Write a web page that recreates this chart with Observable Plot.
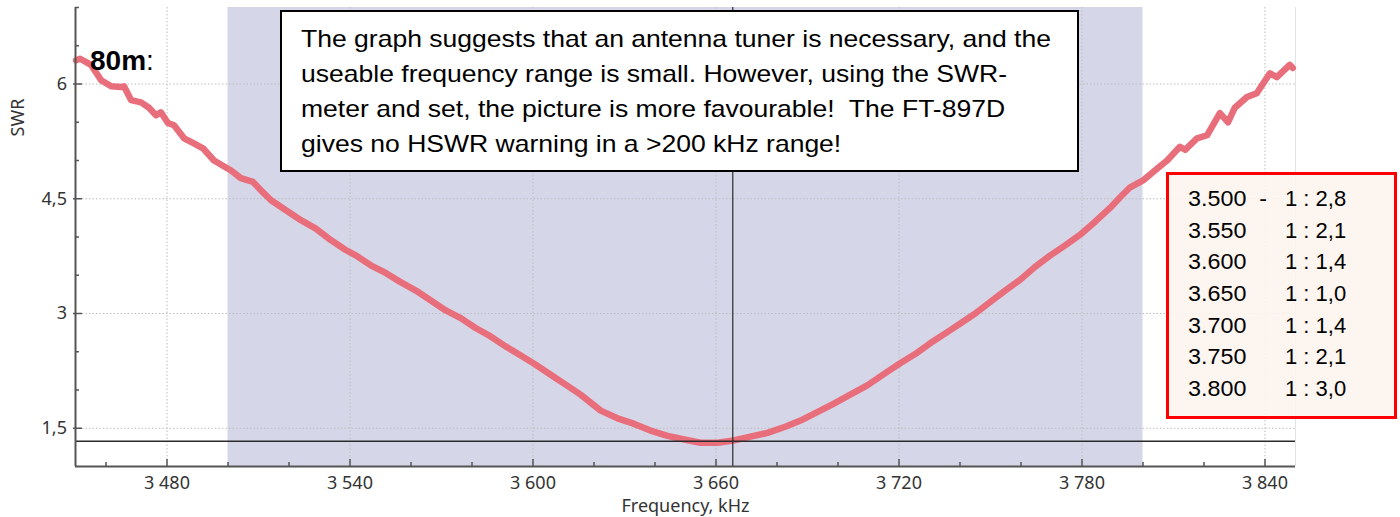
<!DOCTYPE html>
<html>
<head>
<meta charset="utf-8">
<script src="https://cdn.jsdelivr.net/npm/d3@7"></script>
<script src="https://cdn.jsdelivr.net/npm/@observablehq/plot@0.6"></script>
<style>
  html, body { margin: 0; padding: 0; background: #fff; }
  #wrap { position: relative; width: 1400px; height: 517px; overflow: hidden; }
  #wrap svg { position: absolute; left: 0; top: 0; }
  .note { position: absolute; left: 280px; top: 10px; width: 795px; height: 158px;
          border: 2px solid #000; background: #fff; font-family: "Liberation Sans", Arial, sans-serif;
          font-size: 24px; line-height: 35px; color: #000; box-sizing: content-box; }
  .note .inner { position: absolute; left: 19px; top: 8.5px; white-space: pre;
          transform: scaleX(1.105); transform-origin: 0 0; }
  .table { position: absolute; left: 1166px; top: 172px; width: 225px; height: 241px;
           border: 3px solid #ff0000; background: rgba(253,244,238,0.9);
           font-family: "Liberation Sans", Arial, sans-serif; font-size: 22px; line-height: 31.7px; color: #000; }
  .table .inner { position: absolute; left: 19px; top: 8px; white-space: pre; }
  .table .row { position: relative; height: 31.7px; }
  .table .c1 { display: inline-block; transform: scaleX(1.06); transform-origin: 0 0; }
  .table .c2 { position: absolute; left: 97px; top: 0; }
  .band { position: absolute; left: 90px; top: 47px; font-family: "Liberation Sans", Arial, sans-serif;
          font-size: 28px; line-height: 28px; color: #000; white-space: nowrap; }
</style>
</head>
<body>
<div id="wrap"></div>
<script>
// ---- data ----
const freq = [3450.2, 3451.5, 3455.1, 3458.4, 3461.7, 3464.9, 3465.9, 3468.2, 3471.5, 3474.1, 3476.4, 3478.0,
  3480.3, 3482.3, 3485.6, 3488.5, 3491.8, 3495.4, 3501.0, 3504.2, 3508.2, 3511.8, 3514.1, 3519.0, 3523.9,
  3528.8, 3533.7, 3538.6, 3541.9, 3546.8, 3551.7, 3556.6, 3561.6, 3566.5, 3571.4, 3576.3, 3581.2, 3586.1,
  3591.0, 3596.0, 3600.9, 3605.8, 3610.7, 3615.6, 3622.2, 3627.7, 3633.0, 3638.5, 3644.1, 3650.0, 3654.9,
  3660.5, 3665.7, 3671.3, 3676.9, 3682.7, 3687.7, 3693.2, 3698.5, 3704.0, 3709.6, 3715.5, 3720.4, 3725.3,
  3730.2, 3735.2, 3740.1, 3745.0, 3749.9, 3754.8, 3759.7, 3764.6, 3769.6, 3774.5, 3779.4, 3784.3, 3789.2,
  3792.5, 3795.8, 3800.0, 3803.9, 3807.9, 3812.1, 3813.8, 3817.7, 3821.0, 3825.2, 3827.9, 3830.1, 3834.1,
  3837.3, 3841.6, 3843.9, 3848.1, 3849.1];
const swr = [6.31, 6.33, 6.25, 6.05, 5.97, 5.96, 5.97, 5.79, 5.76, 5.69, 5.59, 5.63,
  5.49, 5.46, 5.29, 5.23, 5.16, 5.00, 4.87, 4.77, 4.72, 4.57, 4.48, 4.35, 4.22,
  4.11, 3.96, 3.83, 3.76, 3.63, 3.53, 3.41, 3.30, 3.17, 3.04, 2.94, 2.81, 2.70,
  2.57, 2.45, 2.33, 2.20, 2.07, 1.94, 1.73, 1.63, 1.56, 1.47, 1.40, 1.35, 1.31,
  1.31, 1.34, 1.39, 1.44, 1.52, 1.60, 1.71, 1.82, 1.94, 2.06, 2.22, 2.35, 2.47,
  2.61, 2.74, 2.87, 3.00, 3.15, 3.30, 3.44, 3.61, 3.76, 3.89, 4.03, 4.20, 4.38,
  4.52, 4.65, 4.74, 4.87, 5.00, 5.18, 5.14, 5.29, 5.33, 5.62, 5.50, 5.69, 5.83,
  5.88, 6.14, 6.09, 6.25, 6.21];

const xDomain = [3450, 3850];
const yDomain = [1, 7];
const xMajor = [3480, 3540, 3600, 3660, 3720, 3780, 3840];
const xMajorLabels = ["3 480", "3 540", "3 600", "3 660", "3 720", "3 780", "3 840"];
const xMinor = [3460, 3500, 3520, 3560, 3580, 3620, 3640, 3680, 3700, 3740, 3760, 3800, 3820];
const yMajor = [1.5, 3, 4.5, 6];
const yMajorLabels = ["1,5", "3", "4,5", "6"];
const yMinor = [2, 2.5, 3.5, 4, 5, 5.5, 6.5, 7];
const bandStart = [3500];
const bandEnd = [3800];
const markerFreq = [3665.5];
const markerSwr = [1.33];
const xLabel = "Frequency, kHz";
const yLabel = "SWR";
const bandName = "80m";
const noteLines = [
  "The graph suggests that an antenna tuner is necessary, and the",
  "useable frequency range is small. However, using the SWR-",
  "meter and set, the picture is more favourable!  The FT-897D",
  "gives no HSWR warning in a >200 kHz range!"
];
const tableFreq = ["3.500  -", "3.550", "3.600", "3.650", "3.700", "3.750", "3.800"];
const tableRatio = ["1 : 2,8", "1 : 2,1", "1 : 1,4", "1 : 1,0", "1 : 1,4", "1 : 2,1", "1 : 3,0"];

// ---- build ----
const data = freq.map((f, i) => ({f, s: swr[i]}));
const bands = bandStart.map((a, i) => ({x1: a, x2: bandEnd[i]}));

const W = 1400, H = 517, mL = 75, mR = 105, mT = 7, mB = 51;
const fw = W - mL - mR, fh = H - mT - mB;
const axisFont = "'Noto Sans', 'DejaVu Sans', sans-serif";
const axisColor = "#555";

const chart = Plot.plot({
  width: W, height: H,
  marginLeft: mL, marginRight: mR, marginTop: mT, marginBottom: mB,
  x: {domain: xDomain, axis: null},
  y: {domain: yDomain, axis: null},
  style: {background: "transparent", overflow: "visible"},
  marks: [
    Plot.rect(bands, {x1: "x1", x2: "x2", fill: "#d5d7e8"}),
    Plot.ruleX(xMajor, {x: d => d, stroke: "#bdbdbd", strokeWidth: 1, strokeDasharray: "1.5,2"}),
    Plot.ruleY(yMajor, {y: d => d, stroke: "#bdbdbd", strokeWidth: 1, strokeDasharray: "1.5,2"}),
    Plot.ruleX([xDomain[1]], {x: d => d, stroke: "#e2e2e2", strokeWidth: 1}),
    Plot.line(data, {x: "f", y: "s", stroke: "#e96e7b", strokeWidth: 6.5, strokeLinejoin: "round", strokeLinecap: "round"}),
    Plot.ruleY(markerSwr, {y: d => d, stroke: "#2b2b2b", strokeWidth: 1.5}),
    Plot.ruleX(markerFreq, {x: d => d, stroke: "#2b2b2b", strokeWidth: 1.2}),
    // axes
    Plot.ruleX([xDomain[0]], {x: d => d, stroke: axisColor, strokeWidth: 2}),
    Plot.ruleY([yDomain[0]], {y: d => d, stroke: axisColor, strokeWidth: 2}),
    Plot.ruleX(xMajor, {x: d => d, insetTop: fh - 7, stroke: axisColor, strokeWidth: 1.5}),
    Plot.ruleX(xMinor, {x: d => d, insetTop: fh - 4, stroke: axisColor, strokeWidth: 1.5}),
    Plot.ruleY(yMajor, {y: d => d, insetLeft: -2, insetRight: fw - 7, stroke: axisColor, strokeWidth: 1.5}),
    Plot.ruleY(yMinor, {y: d => d, insetLeft: 0, insetRight: fw - 4, stroke: axisColor, strokeWidth: 1.5}),
    Plot.text(xMajor, {x: d => d, frameAnchor: "bottom", text: (d, i) => xMajorLabels[i], dy: 17,
      lineAnchor: "middle", fontSize: 18, fontFamily: axisFont, fill: "#333"}),
    Plot.text(yMajor, {y: d => d, frameAnchor: "left", text: (d, i) => yMajorLabels[i], dx: -8.5,
      textAnchor: "end", lineAnchor: "middle", fontSize: 18, fontFamily: axisFont, fill: "#333"}),
    Plot.text([xLabel], {frameAnchor: "bottom", text: d => d, dy: 40, lineAnchor: "middle",
      fontSize: 18, fontFamily: axisFont, fill: "#333"}),
    Plot.text([yLabel], {frameAnchor: "top-left", text: d => d, dx: -57.5, dy: 110, rotate: -90,
      textAnchor: "middle", lineAnchor: "middle", fontSize: 18, fontFamily: axisFont, fill: "#333"})
  ]
});

const wrap = document.getElementById("wrap");
wrap.appendChild(chart);

const band = document.createElement("div");
band.className = "band";
band.innerHTML = "<b>" + bandName + "</b>:";
wrap.appendChild(band);

const note = document.createElement("div");
note.className = "note";
const ni = document.createElement("div");
ni.className = "inner";
noteLines.forEach(t => { const d = document.createElement("div"); d.textContent = t; ni.appendChild(d); });
note.appendChild(ni);
wrap.appendChild(note);

const table = document.createElement("div");
table.className = "table";
const ti = document.createElement("div");
ti.className = "inner";
tableFreq.forEach((t, i) => {
  const r = document.createElement("div"); r.className = "row";
  const a = document.createElement("span"); a.className = "c1"; a.textContent = t;
  const b = document.createElement("span"); b.className = "c2"; b.textContent = tableRatio[i];
  r.appendChild(a); r.appendChild(b); ti.appendChild(r);
});
table.appendChild(ti);
wrap.appendChild(table);
</script>
</body>
</html>
